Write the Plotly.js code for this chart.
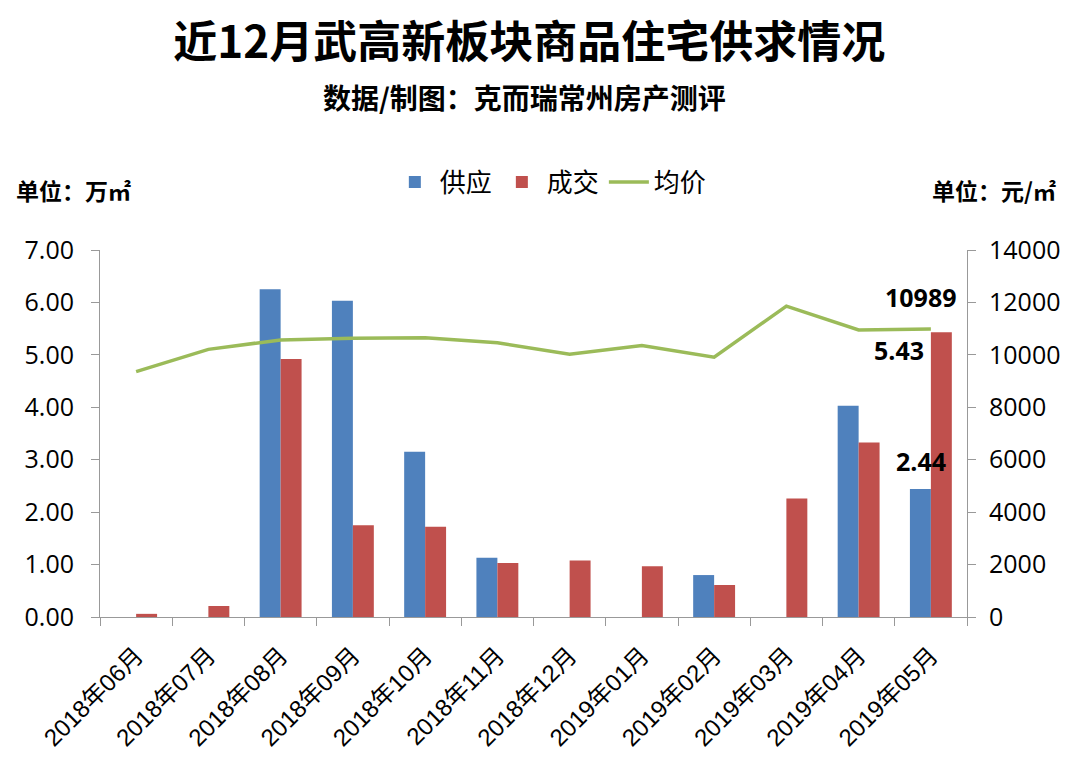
<!DOCTYPE html>
<html>
<head>
<meta charset="utf-8">
<script src="https://cdn.plot.ly/plotly-3.0.1.min.js"></script>
<style>body{margin:0;background:#fff;} #chart{width:1080px;height:770px;}</style>
</head>
<body>
<div id="chart"></div>
<script>
var months = ["2018年06月","2018年07月","2018年08月","2018年09月","2018年10月","2018年11月","2018年12月","2019年01月","2019年02月","2019年03月","2019年04月","2019年05月"];
var supply = [0, 0, 6.25, 6.03, 3.15, 1.13, 0, 0, 0.80, 0, 4.03, 2.44];
var deal = [0.06, 0.21, 4.92, 1.75, 1.72, 1.03, 1.08, 0.97, 0.61, 2.26, 3.33, 5.43];
var price = [9360, 10210, 10570, 10630, 10650, 10460, 10020, 10360, 9910, 11860, 10950, 10989];

var CJK = '"Noto Sans CJK SC", sans-serif';
var NUM = '"Open Sans", "Noto Sans CJK SC", sans-serif';

var traces = [
  {type:'bar', name:'供应', x:months, y:supply, marker:{color:'#4F81BD'}, yaxis:'y'},
  {type:'bar', name:'成交', x:months, y:deal, marker:{color:'#C0504D'}, yaxis:'y'},
  {type:'scatter', mode:'lines', name:'均价', x:months, y:price, yaxis:'y2',
   line:{color:'#9BBB59', width:3.5}}
];

var last = months.length - 1;
var layout = {
  width:1080, height:770,
  paper_bgcolor:'#fff', plot_bgcolor:'#fff',
  margin:{l:100, r:113, t:250, b:153},
  font:{family:NUM, color:'#000'},
  title:{text:'<b>近12月武高新板块商品住宅供求情况</b>', font:{family:CJK, size:44, color:'#000'},
         x:0.49, xanchor:'center', y:0.945, yanchor:'middle'},
  barmode:'group', bargap:0.42, bargroupgap:0,
  showlegend:true,
  legend:{orientation:'h', x:0.52, xanchor:'center', y:1.185, yanchor:'middle',
          font:{family:CJK, size:26, color:'#000'}, itemwidth:40, traceorder:'normal'},
  xaxis:{type:'category', showline:true, linecolor:'#999', linewidth:1,
         ticks:'outside', tickson:'boundaries', ticklen:8, tickcolor:'#999',
         tickangle:-45, ticklabelstandoff:14,
         tickfont:{family:'"Liberation Sans", "Noto Sans CJK SC", sans-serif', size:24, color:'#000'},
         showgrid:false, zeroline:false},
  yaxis:{range:[0,7], dtick:1, tickformat:'.2f', showline:true, linecolor:'#999', linewidth:1,
         ticks:'outside', ticklen:8, tickcolor:'#999', showgrid:false, zeroline:false,
         ticklabelstandoff:12, tickfont:{family:NUM, size:25, color:'#000'}},
  yaxis2:{range:[0,14000], dtick:2000, tickformat:'d', overlaying:'y', side:'right', showline:true, linecolor:'#999', linewidth:1,
          ticks:'outside', ticklen:8, tickcolor:'#999', showgrid:false, zeroline:false,
          ticklabelstandoff:8, tickfont:{family:NUM, size:25, color:'#000'}},
  annotations:[
    {text:'<b>数据/制图：克而瑞常州房产测评</b>', xref:'paper', yref:'paper', x:0.49, y:1.417,
     xanchor:'center', yanchor:'middle', showarrow:false, font:{family:CJK, size:28, color:'#000'}},
    {text:'<b>单位：万㎡</b>', xref:'paper', yref:'paper', x:-0.031, y:1.163,
     xanchor:'center', yanchor:'middle', showarrow:false, font:{family:CJK, size:23, color:'#000'}},
    {text:'<b>单位：元/㎡</b>', xref:'paper', yref:'paper', x:1.031, y:1.163,
     xanchor:'center', yanchor:'middle', showarrow:false, font:{family:CJK, size:23, color:'#000'}},
    {text:'<b>' + price[last] + '</b>', x:months[last], y:price[last], xref:'x', yref:'y2',
     showarrow:false, xshift:-10, yshift:32, font:{family:NUM, size:25, color:'#000'}},
    {text:'<b>' + deal[last].toFixed(2) + '</b>', x:months[last], y:deal[last], xref:'x', yref:'y',
     showarrow:false, xshift:-32, yshift:-18, font:{family:NUM, size:25, color:'#000'}},
    {text:'<b>' + supply[last].toFixed(2) + '</b>', x:months[last], y:supply[last], xref:'x', yref:'y',
     showarrow:false, xshift:-10, yshift:28, font:{family:NUM, size:25, color:'#000'}}
  ]
};

Plotly.newPlot('chart', traces, layout, {displayModeBar:false, staticPlot:true});
</script>
</body>
</html>
